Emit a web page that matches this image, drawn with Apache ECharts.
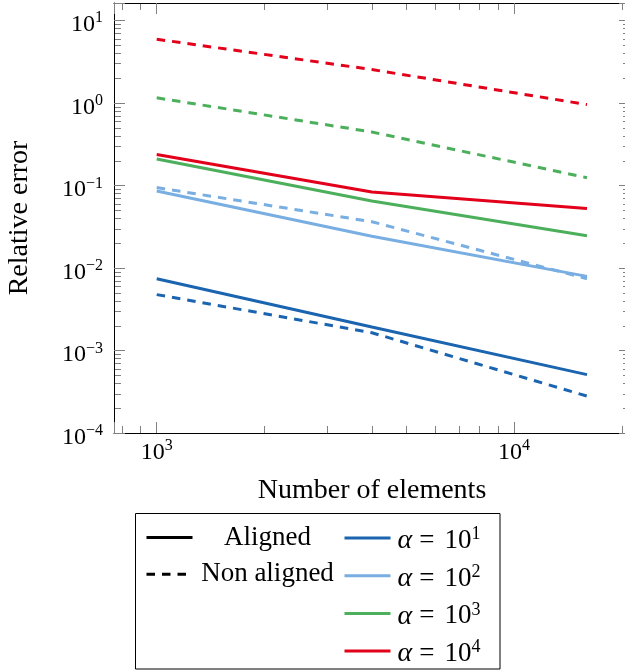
<!DOCTYPE html>
<html>
<head>
<meta charset="utf-8">
<script src="https://cdn.jsdelivr.net/npm/echarts@6/dist/echarts.min.js"></script>
<style>
html, body { margin: 0; padding: 0; background: #fff; }
#chart { width: 625px; height: 672px; }
</style>
</head>
<body>
<div id="chart"></div>
<script>
// data
const elements = [1000, 4000, 16000];
const alphaNames = ['α = 10^1', 'α = 10^2', 'α = 10^3', 'α = 10^4'];
const alphaColors = ['#1a64b0', '#78aee2', '#4caf5c', '#e2001a'];
const aligned = [
  [0.0074, 0.00192, 0.00051],
  [0.0855, 0.0242, 0.0079],
  [0.209, 0.0647, 0.0246],
  [0.236, 0.0832, 0.0524]
];
const nonAligned = [
  [0.00475, 0.00164, 0.00028],
  [0.094, 0.0363, 0.0074],
  [1.15, 0.443, 0.124],
  [5.9, 2.53, 0.953]
];
const styleNames = ['Aligned', 'Non aligned'];

const xRange = [759.5, 21110];
const yRange = [1e-4, 16.2];

const FONT = 'Liberation Serif';
const DASH = [8.5, 7];
const TICK_COLOR = '#808080';
const GRID = { left: 114, top: 3, width: 516, height: 430 };

const chart = echarts.init(document.getElementById('chart'));

// base digits sit a little below the line centre, the exponent above it
const tickRich = {
  b: { fontFamily: FONT, fontSize: 24, lineHeight: 24, padding: [9, 0, 0, 0], color: '#000' },
  s: { fontFamily: FONT, fontSize: 16, lineHeight: 16, padding: [0, 0, 4, 0], color: '#000' }
};

function powLabel(v) {
  const e = Math.log10(v);
  const r = Math.round(e);
  if (Math.abs(e - r) > 1e-6) return '';
  return '{b|10}{s|' + (r < 0 ? '−' + (-r) : r) + '}';
}

function logAxis(range, position, withLabels) {
  return {
    type: 'log',
    logBase: 10,
    min: range[0],
    max: range[1],
    position: position,
    axisLine: { show: true, onZero: false, lineStyle: { color: '#000', width: 1 } },
    axisTick: { show: true, inside: true, length: 11, lineStyle: { color: TICK_COLOR, width: 1 } },
    axisLabel: {
      show: withLabels,
      formatter: powLabel,
      rich: tickRich,
      showMinLabel: true,
      showMaxLabel: true
    },
    splitLine: { show: false },
    minorTick: { show: false }
  };
}

const xBottom = Object.assign(logAxis(xRange, 'bottom', true), {
  name: 'Number of elements',
  nameLocation: 'middle',
  nameGap: 44,
  nameTextStyle: { fontFamily: FONT, fontSize: 28, color: '#000' }
});
xBottom.axisLabel.margin = 3;
const yLeft = Object.assign(logAxis(yRange, 'left', true), {
  name: 'Relative error',
  nameLocation: 'middle',
  nameGap: 80,
  nameTextStyle: { fontFamily: FONT, fontSize: 28, color: '#000' }
});
yLeft.axisLabel.margin = 11;

const series = [];
styleNames.forEach(function (name, i) {
  series.push({
    name: name,
    type: 'line',
    data: [],
    symbol: 'none',
    itemStyle: { color: '#000' },
    lineStyle: { color: '#000', width: 3, type: i === 0 ? 'solid' : DASH }
  });
});
alphaNames.forEach(function (name, i) {
  series.push({
    name: name,
    type: 'line',
    symbol: 'none',
    itemStyle: { color: alphaColors[i] },
    lineStyle: { color: alphaColors[i], width: 3, type: 'solid' },
    data: elements.map(function (x, j) { return [x, aligned[i][j]]; })
  });
});
alphaNames.forEach(function (name, i) {
  series.push({
    name: name,
    type: 'line',
    symbol: 'none',
    itemStyle: { color: alphaColors[i] },
    lineStyle: { color: alphaColors[i], width: 3, type: DASH },
    data: elements.map(function (x, j) { return [x, nonAligned[i][j]]; })
  });
});

const legendBase = {
  orient: 'vertical',
  top: 521,
  height: 170,
  padding: 0,
  itemWidth: 46,
  itemHeight: 14,
  itemGap: 3.7,
  selectedMode: false,
  itemStyle: { opacity: 0 },
  lineStyle: { width: 3 }
};

const option = {
  animation: false,
  backgroundColor: '#fff',
  grid: Object.assign({ outerBoundsMode: 'none', containLabel: false }, GRID),
  xAxis: [xBottom, logAxis(xRange, 'top', false)],
  yAxis: [yLeft, logAxis(yRange, 'right', false)],
  legend: [
    Object.assign({}, legendBase, {
      left: 145,
      data: styleNames,
      formatter: function (n) { return '{c|' + n + '}'; },
      textStyle: {
        rich: {
          c: { width: 140, align: 'center', fontFamily: FONT, fontSize: 27, lineHeight: 27, padding: [3, 0, 3, 0], color: '#000' }
        }
      }
    }),
    Object.assign({}, legendBase, {
      left: 343,
      data: alphaNames,
      formatter: function (n) { return '{a|α}{e|=}{t|10}{s|' + n.split('^')[1] + '}'; },
      textStyle: {
        rich: {
          a: { fontFamily: FONT, fontStyle: 'italic', fontSize: 28, lineHeight: 27, padding: [6, 0, 0, 2], color: '#000' },
          e: { fontFamily: FONT, fontSize: 27, lineHeight: 27, padding: [6, 10, 0, 7], color: '#000' },
          t: { fontFamily: FONT, fontSize: 27, lineHeight: 27, padding: [6, 0, 0, 0], color: '#000' },
          s: { fontFamily: FONT, fontSize: 18, lineHeight: 18, padding: [0, 0, 7, 0], color: '#000' }
        }
      }
    })
  ],
  graphic: [{
    id: 'legendBox',
    type: 'rect',
    shape: { x: 135.5, y: 513.5, width: 364.5, height: 155.5 },
    style: { fill: 'none', stroke: '#000', lineWidth: 1 },
    silent: true
  }],
  series: series
};

chart.setOption(option);

// minor ticks (2..9 per decade) placed through the axis scales
function minorValues(range) {
  const out = [];
  for (let e = Math.floor(Math.log10(range[0])); e <= Math.ceil(Math.log10(range[1])); e++) {
    for (let k = 2; k <= 9; k++) {
      const v = k * Math.pow(10, e);
      if (v > range[0] && v < range[1]) out.push(v);
    }
  }
  return out;
}

const MINOR = 7;
const gx0 = GRID.left, gx1 = GRID.left + GRID.width;
const gy0 = GRID.top, gy1 = GRID.top + GRID.height;
const ticks = [];
minorValues(xRange).forEach(function (v) {
  const px = Math.round(chart.convertToPixel({ xAxisIndex: 0 }, v)) + 0.5;
  ticks.push({ type: 'line', shape: { x1: px, y1: gy1, x2: px, y2: gy1 - MINOR } });
  ticks.push({ type: 'line', shape: { x1: px, y1: gy0, x2: px, y2: gy0 + MINOR } });
});
minorValues(yRange).forEach(function (v) {
  const py = Math.round(chart.convertToPixel({ yAxisIndex: 0 }, v)) + 0.5;
  ticks.push({ type: 'line', shape: { x1: gx0, y1: py, x2: gx0 + MINOR, y2: py } });
  ticks.push({ type: 'line', shape: { x1: gx1, y1: py, x2: gx1 - MINOR, y2: py } });
});
ticks.forEach(function (t, i) {
  t.id = 'minor' + i;
  t.silent = true;
  t.style = { stroke: TICK_COLOR, lineWidth: 1 };
});
chart.setOption({ graphic: ticks });

window.addEventListener('resize', function () { chart.resize(); });
</script>
</body>
</html>
